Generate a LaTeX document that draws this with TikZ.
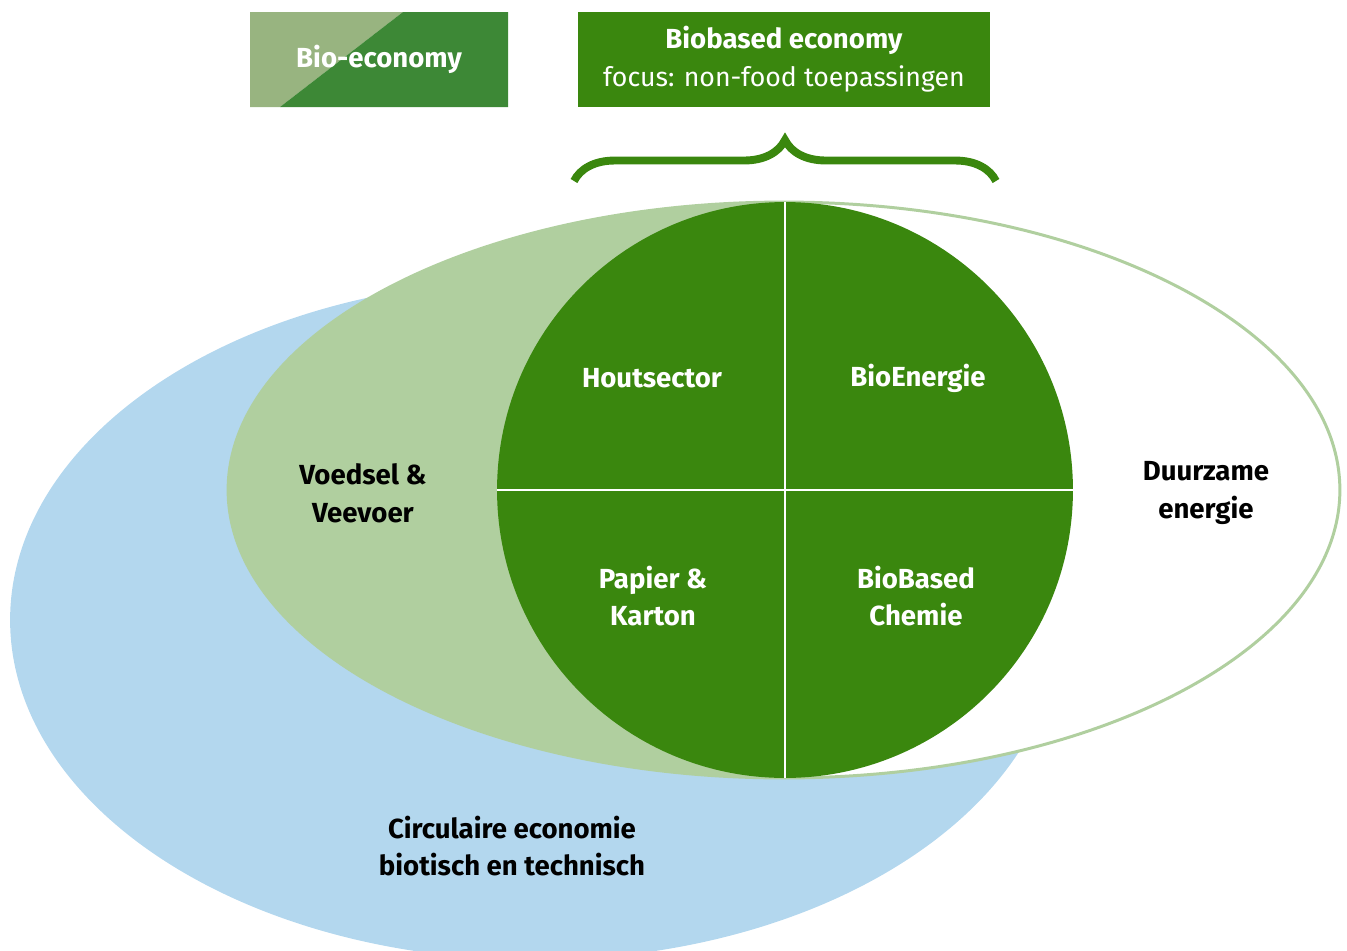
\documentclass[tikz,border=0pt]{standalone}
\usepackage{fontspec}
\setmainfont{Fira Sans}
\usepackage{tikz}
\usetikzlibrary{decorations.pathreplacing}
\usetikzlibrary{positioning}

\definecolor{leaf}{HTML}{3A870E}
\definecolor{sage}{HTML}{B0CF9F}
\definecolor{sky}{HTML}{B3D7EE}
\definecolor{biolight}{HTML}{98B480}
\definecolor{biodark}{HTML}{3D8836}

\begin{document}
\begin{tikzpicture}[x=0.02cm,y=-0.02cm,
    lbl/.style={font=\fontsize{15.7}{21.5}\selectfont\bfseries,align=center},
    wlbl/.style={lbl,text=white}]
  \def\ex{11.12cm}
  \def\ey{5.76cm}
  \clip (0,0) rectangle (1347,951);
  % circular economy underneath
  \fill[sky] (535,620) ellipse [x radius=10.5cm,y radius=6.8cm];
  % bio-economy ellipse, left half filled
  \coordinate (E) at (784,490);
  \filldraw[fill=white,draw=sage,line width=1.7pt] (E) ellipse [x radius=\ex,y radius=\ey];
  \begin{scope}
    \clip (0,0) rectangle (785,951);
    \fill[sage] (E) ellipse [x radius=\ex,y radius=\ey];
  \end{scope}
  % biobased core
  \node[circle,fill=leaf,inner sep=0pt,minimum size=11.52cm] (core) at (785,490) {};
  \draw[white,line width=1.1pt] (core.north) -- (core.south) (core.west) -- (core.east);
  \node[wlbl] (wood) at (652,378) {Houtsector};
  \node[wlbl] (bioen) at (918,378) {BioEnergie};
  \node[wlbl] (paper) at (653,596) {Papier \&\\Karton};
  \node[wlbl] (chem) at (916,596) {BioBased\\Chemie};
  \node[lbl] (feed) at (363,493) {Voedsel \&\\Veevoer};
  \node[lbl] (renew) at (1206,493) {Duurzame\\energie};
  \node[lbl] (circ) at (512,846) {Circulaire economie\\biotisch en technisch};
  % legend boxes
  \fill[biolight] (250,12) -- (403,12) -- (280,107) -- (250,107) -- cycle;
  \fill[biodark] (403,12) -- (508,12) -- (508,107) -- (280,107) -- cycle;
  \node[wlbl] (bioeco) at (379,59.5) {Bio-economy};
  \node[fill=leaf,minimum width=8.24cm,minimum height=1.9cm,align=center,text=white,
        font=\fontsize{15.2}{21.5}\selectfont] (bbe) at (784,59.5)
        {\textbf{\fontsize{15.7}{21.5}\selectfont Biobased economy}\\focus: non-food toepassingen};
  \coordinate (bl) at (574,181);
  \coordinate (br) at (996,181);
  \draw[leaf,line width=4.5pt,decorate,decoration={brace,amplitude=0.82cm}] (bl) -- (br);
\end{tikzpicture}
\end{document}
